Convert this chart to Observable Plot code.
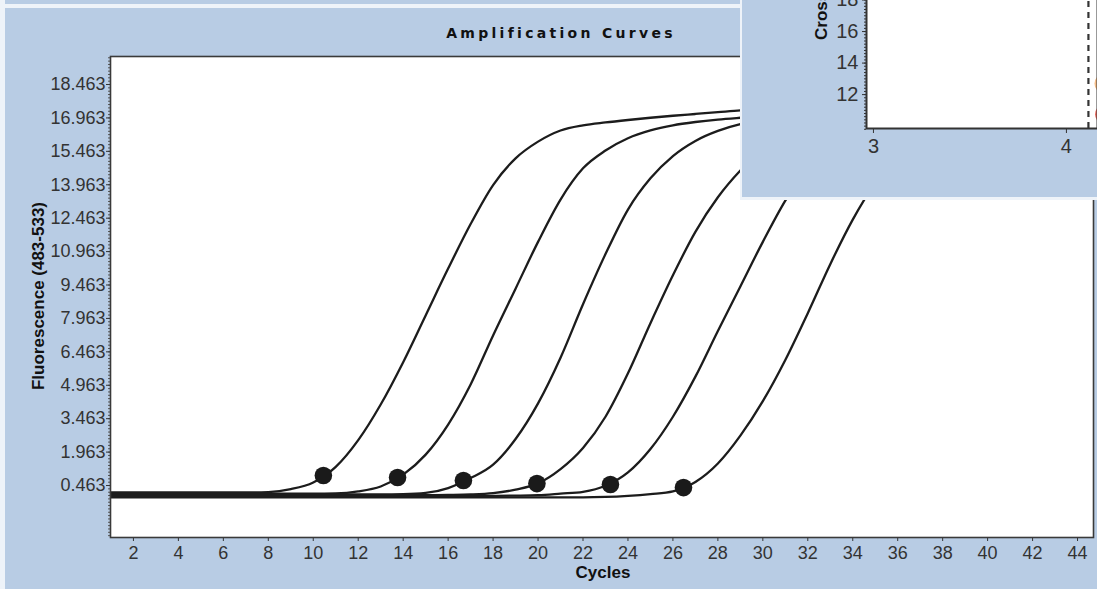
<!DOCTYPE html>
<html>
<head>
<meta charset="utf-8">
<script src="https://cdn.jsdelivr.net/npm/d3@7"></script>
<script src="https://cdn.jsdelivr.net/npm/@observablehq/plot@0.6"></script>
<style>
html,body{margin:0;padding:0;}
body{width:1097px;height:589px;overflow:hidden;background:#b8cce4;position:relative;font-family:"Liberation Sans",Arial,sans-serif;}
#topband{position:absolute;left:0;top:4px;width:740px;height:4px;background:#eef3f9;}
#leftband{position:absolute;left:0;top:0;width:5px;height:589px;background:#eef3f9;}
#main{position:absolute;left:0;top:0;}
.title{position:absolute;left:561px;top:33px;transform:translate(-50%,-50%);font-family:"DejaVu Sans",sans-serif;font-weight:bold;font-size:14px;letter-spacing:3.3px;color:#111;white-space:nowrap;}
.ytitle{position:absolute;left:39px;top:296px;transform:translate(-50%,-50%) rotate(-90deg);font-weight:bold;font-size:17px;color:#111;white-space:nowrap;}
.xtitle{position:absolute;left:603px;top:573px;transform:translate(-50%,-50%);font-weight:bold;font-size:17px;color:#111;white-space:nowrap;}
#inset{position:absolute;left:740px;top:0;width:355px;height:197px;background:#b8cce4;border-left:2px solid #eef3f9;border-bottom:3px solid #eef3f9;overflow:hidden;z-index:5;}
#insetPlot{position:absolute;left:0;top:-32px;}
.insetYTitle{position:absolute;left:80px;top:31px;height:18px;line-height:18px;transform:rotate(-90deg);transform-origin:0 50%;font-weight:bold;font-size:17px;color:#111;white-space:nowrap;}
</style>
</head>
<body>
<div id="topband"></div>
<div id="leftband"></div>
<div id="main"></div>
<div class="title">Amplification Curves</div>
<div class="ytitle">Fluorescence (483-533)</div>
<div class="xtitle">Cycles</div>
<div id="inset"><div id="insetPlot"></div><div class="insetYTitle">Crossing Point</div></div>
<script>
// ---- data ----
const cycles = [1,2,3,4,5,6,7,8,9,10,11,12,13,14,15,16,17,18,19,20,21,22,23,24,25,26,27,28,29,30,31,32,33,34,35,36,37,38,39,40,41,42,43,44,45];
const sample1 = [0.15,0.15,0.15,0.15,0.15,0.15,0.15,0.17,0.3,0.6,1.3,2.5,4.1,6.0,8.1,10.2,12.2,13.95,15.15,15.9,16.4,16.63,16.76,16.87,16.97,17.06,17.14,17.22,17.3,17.36,17.42,17.47,17.52,17.56,17.6,17.63,17.66,17.69,17.72,17.74,17.76,17.78,17.8,17.82,17.84];
const sample2 = [0.1,0.1,0.1,0.1,0.1,0.1,0.1,0.1,0.1,0.1,0.11,0.2,0.42,0.95,1.85,3.2,5.0,7.2,9.3,11.4,13.3,14.7,15.5,16.05,16.4,16.63,16.78,16.89,16.97,17.04,17.1,17.16,17.22,17.27,17.32,17.36,17.4,17.44,17.48,17.51,17.54,17.57,17.6,17.63,17.66];
const sample3 = [0.07,0.07,0.07,0.07,0.07,0.07,0.07,0.07,0.07,0.07,0.07,0.07,0.07,0.08,0.13,0.35,0.8,1.4,2.55,4.15,6.2,8.6,10.85,12.85,14.25,15.25,15.93,16.38,16.68,16.87,16.99,17.07,17.14,17.2,17.25,17.3,17.34,17.38,17.42,17.45,17.48,17.51,17.54,17.57,17.6];
const sample4 = [0.03,0.03,0.03,0.03,0.03,0.03,0.03,0.03,0.03,0.03,0.03,0.03,0.03,0.03,0.03,0.04,0.06,0.12,0.28,0.56,1.2,2.15,3.55,5.5,7.75,9.9,11.85,13.4,14.6,15.55,16.2,16.62,16.88,17.02,17.12,17.19,17.25,17.3,17.35,17.4,17.44,17.48,17.52,17.55,17.58];
const sample5 = [0,0,0,0,0,0,0,0,0,0,0,0,0,0,0,0,0,0,0.01,0.03,0.1,0.18,0.45,1.05,2.1,3.55,5.35,7.4,9.4,11.4,13.25,14.75,15.8,16.45,16.82,17.02,17.15,17.25,17.32,17.37,17.42,17.46,17.5,17.53,17.56];
const sample6 = [-0.07,-0.07,-0.07,-0.07,-0.07,-0.07,-0.07,-0.07,-0.07,-0.07,-0.07,-0.07,-0.07,-0.07,-0.07,-0.07,-0.07,-0.07,-0.07,-0.07,-0.07,-0.07,-0.05,0.0,0.08,0.2,0.62,1.45,2.7,4.25,6.1,8.2,10.4,12.4,14.05,15.3,16.1,16.6,16.9,17.05,17.15,17.22,17.28,17.33,17.38];
const sampleNames = ["S1","S2","S3","S4","S5","S6"];
// crossing points (dots)
const cpCycles = [10.45, 13.75, 16.68, 19.95, 23.22, 26.47];
const cpValues = [0.91, 0.82, 0.69, 0.55, 0.51, 0.37];
// axis ticks
const xTicks = [2,4,6,8,10,12,14,16,18,20,22,24,26,28,30,32,34,36,38,40,42,44];
const yTicks = [0.463,1.963,3.463,4.963,6.463,7.963,9.463,10.963,12.463,13.963,15.463,16.963,18.463];
const yTickLabels = ["0.463","1.963","3.463","4.963","6.463","7.963","9.463","10.963","12.463","13.963","15.463","16.963","18.463"];
// inset
const insetYTicks = [12,14,16,18];
const insetXTicks = [3,4];
const insetXTickLabels = ["3","4"];
const insetThreshold = [4.114];
const insetMarkX = [4.197, 4.2];
const insetMarkY = [12.7, 10.75];
const insetMarkColor = ["#f7bf8a", "#ec6a5e"];

// ---- build tables ----
const series = [sample1, sample2, sample3, sample4, sample5, sample6];
const rows = [];
series.forEach((vals, i) => vals.forEach((v, j) => rows.push({cycle: cycles[j], value: v, sample: sampleNames[i]})));
const cps = cpCycles.map((c, i) => ({cycle: c, value: cpValues[i]}));
const labelMap = new Map(yTicks.map((t, i) => [t, yTickLabels[i]]));
const insetXLabelMap = new Map(insetXTicks.map((t, i) => [t, insetXTickLabels[i]]));
const yMinor = d3.range(-1.787, 19.7, 0.15);

const main = Plot.plot({
  width: 1097, height: 589,
  marginLeft: 110, marginRight: 4, marginTop: 56, marginBottom: 52,
  x: {domain: [0.98, 44.71], label: null},
  y: {domain: [-1.87, 19.72], label: null},
  style: {background: "transparent", fontFamily: "'Liberation Sans', Arial, sans-serif", fontSize: "18px", color: "#333"},
  marks: [
    Plot.frame({fill: "white"}),
    Plot.axisY({ticks: yMinor, tickSize: 2, tickFormat: () => "", label: null, stroke: "#555"}),
    Plot.axisY({ticks: yTicks, tickSize: 4, tickPadding: 1, tickFormat: d => labelMap.get(d), label: null}),
    Plot.axisX({ticks: xTicks, tickSize: 4, tickPadding: 5, label: null}),
    Plot.line(rows, {x: "cycle", y: "value", z: "sample", stroke: "#1c1c1c", strokeWidth: 2.3, curve: "monotone-x"}),
    Plot.dot(cps, {x: "cycle", y: "value", r: 8.8, fill: "#1a1a1a", stroke: "none"}),
    Plot.frame({stroke: "#3a3a3a", strokeWidth: 1.6})
  ]
});
document.getElementById("main").appendChild(main);

const insetMarks = insetMarkX.map((x, i) => ({x, y: insetMarkY[i], c: insetMarkColor[i]}));
const insetMinor = d3.range(9.8, 20, 0.2);
const inset = Plot.plot({
  width: 355, height: 229,
  marginLeft: 124, marginRight: 0, marginTop: 0, marginBottom: 69,
  x: {domain: [2.964, 4.161], label: null},
  y: {domain: [9.85, 20], label: null},
  style: {background: "transparent", fontFamily: "'Liberation Sans', Arial, sans-serif", fontSize: "20px", color: "#333", overflow: "visible"},
  marks: [
    Plot.frame({fill: "white"}),
    Plot.dot(insetMarks, {x: "x", y: "y", r: 10, fill: "c", stroke: "none"}),
    Plot.ruleX(insetThreshold, {stroke: "#333", strokeWidth: 2.2, strokeDasharray: "6,5"}),
    Plot.axisY({ticks: insetMinor, tickSize: 2, tickFormat: () => "", label: null}),
    Plot.axisY({ticks: insetYTicks, tickSize: 4, tickPadding: 4, label: null}),
    Plot.axisX({ticks: insetXTicks, tickSize: 5, tickPadding: 5, tickFormat: d => insetXLabelMap.get(d), label: null}),
    Plot.frame({stroke: "#333", strokeWidth: 2})
  ]
});
document.getElementById("insetPlot").appendChild(inset);
</script>
</body>
</html>
